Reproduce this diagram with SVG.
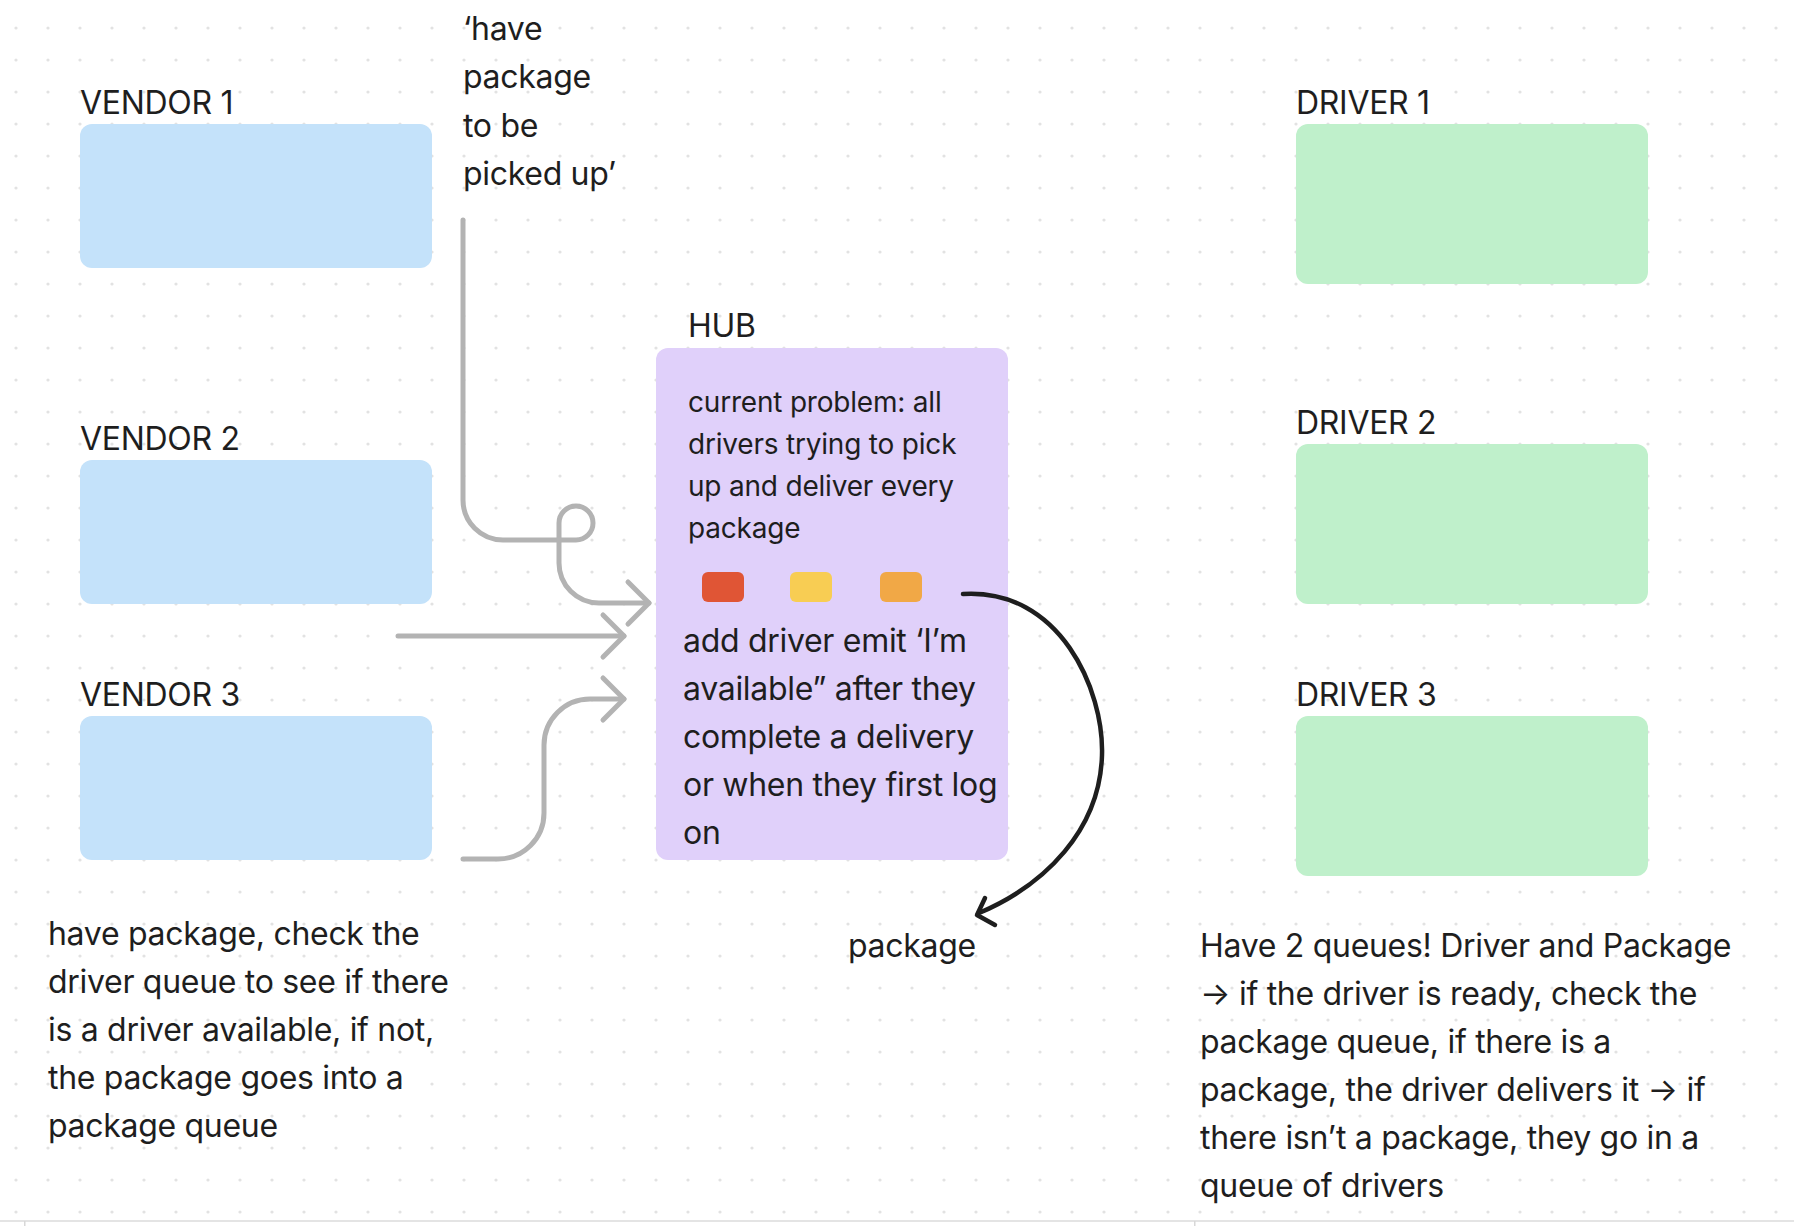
<svg xmlns="http://www.w3.org/2000/svg" width="1794" height="1226" viewBox="0 0 1794 1226">
<defs>
<pattern id="dots" x="0" y="0" width="32" height="32" patternUnits="userSpaceOnUse">
<circle cx="16" cy="28" r="1.6" fill="#E2E2E2"/>
</pattern>
<style>
text{font-family:Inter,"Noto Sans","Liberation Sans",sans-serif;fill:#1E1E1E;}
.lbl{font-size:32px;letter-spacing:-0.3px;}
.body{font-size:32px;letter-spacing:-0.3px;}
.small{font-size:28px;letter-spacing:-0.2px;}
.vendor{fill:#C4E2FA;}
.driver{fill:#BFF0CB;}
.hub{fill:#E0D0FA;}
.gray{fill:none;stroke:#B3B3B3;stroke-width:5;stroke-linecap:round;stroke-linejoin:round;}
.black{fill:none;stroke:#1E1E1E;stroke-width:4.5;stroke-linecap:round;stroke-linejoin:round;}
</style>
</defs>
<rect width="1794" height="1226" fill="#FFFFFF"/>
<rect width="1794" height="1220" fill="url(#dots)"/>
<rect x="0" y="1220" width="1794" height="2" fill="#E4E4E4"/>
<rect x="24" y="1221" width="1.5" height="5" fill="#D8D8D8"/>
<rect x="1194" y="1221" width="1.5" height="5" fill="#D8D8D8"/>

<g id="vendor1">
<text class="lbl" x="80" y="114">VENDOR 1</text>
<rect class="vendor" x="80" y="124" width="352" height="144" rx="12"/>
</g>
<g id="vendor2">
<text class="lbl" x="80" y="450">VENDOR 2</text>
<rect class="vendor" x="80" y="460" width="352" height="144" rx="12"/>
</g>
<g id="vendor3">
<text class="lbl" x="80" y="706">VENDOR 3</text>
<rect class="vendor" x="80" y="716" width="352" height="144" rx="12"/>
</g>

<g id="driver1">
<text class="lbl" x="1296" y="114">DRIVER 1</text>
<rect class="driver" x="1296" y="124" width="352" height="160" rx="12"/>
</g>
<g id="driver2">
<text class="lbl" x="1296" y="434">DRIVER 2</text>
<rect class="driver" x="1296" y="444" width="352" height="160" rx="12"/>
</g>
<g id="driver3">
<text class="lbl" x="1296" y="706">DRIVER 3</text>
<rect class="driver" x="1296" y="716" width="352" height="160" rx="12"/>
</g>

<g id="hub">
<text class="lbl" x="688" y="337">HUB</text>
<rect class="hub" x="656" y="348" width="352" height="512" rx="12"/>
<text class="small" x="688" y="412">current problem: all</text>
<text class="small" x="688" y="454">drivers trying to pick</text>
<text class="small" x="688" y="496">up and deliver every</text>
<text class="small" x="688" y="538">package</text>
<rect x="702" y="572" width="42" height="30" rx="6" fill="#E05535"/>
<rect x="790" y="572" width="42" height="30" rx="6" fill="#F8CD53"/>
<rect x="880" y="572" width="42" height="30" rx="6" fill="#F1A846"/>
<text class="body" x="683" y="652">add driver emit ‘I’m</text>
<text class="body" x="683" y="700">available” after they</text>
<text class="body" x="683" y="748">complete a delivery</text>
<text class="body" x="683" y="796">or when they first log</text>
<text class="body" x="683" y="844">on</text>
</g>

<g id="note-pickup">
<text class="body" x="463" y="40">‘have</text>
<text class="body" x="463" y="88">package</text>
<text class="body" x="463" y="137">to be</text>
<text class="body" x="463" y="185">picked up’</text>
</g>

<g id="note-vendor">
<text class="body" x="48" y="945">have package, check the</text>
<text class="body" x="48" y="993">driver queue to see if there</text>
<text class="body" x="48" y="1041">is a driver available, if not,</text>
<text class="body" x="48" y="1089">the package goes into a</text>
<text class="body" x="48" y="1137">package queue</text>
</g>

<g id="note-package">
<text class="body" x="848" y="957">package</text>
</g>

<g id="note-queues">
<text class="body" x="1200" y="957">Have 2 queues! Driver and Package</text>
<text class="body" x="1200" y="1005">→ if the driver is ready, check the</text>
<text class="body" x="1200" y="1053">package queue, if there is a</text>
<text class="body" x="1200" y="1101">package, the driver delivers it → if</text>
<text class="body" x="1200" y="1149">there isn’t a package, they go in a</text>
<text class="body" x="1200" y="1197">queue of drivers</text>
</g>

<g id="connectors">
<path class="gray" d="M463,220 V500 A40,40 0 0 0 503,540 H576 A17,17 0 1 0 559,523 V563 A40,40 0 0 0 599,603 H649"/>
<path class="gray" d="M628,582 L649,603 L628,624"/>
<path class="gray" d="M398,636 H624"/>
<path class="gray" d="M603,615 L624,636 L603,657"/>
<path class="gray" d="M463,859 H498 A46,46 0 0 0 544,813 V745 A46,46 0 0 1 590,699 H624"/>
<path class="gray" d="M603,678 L624,699 L603,720"/>
<path class="black" d="M963,594 C1060,588 1104,690 1102,755 C1100,830 1045,885 979,913"/>
<path class="black" d="M985,898 L977,915 L995,925"/>
</g>
</svg>
